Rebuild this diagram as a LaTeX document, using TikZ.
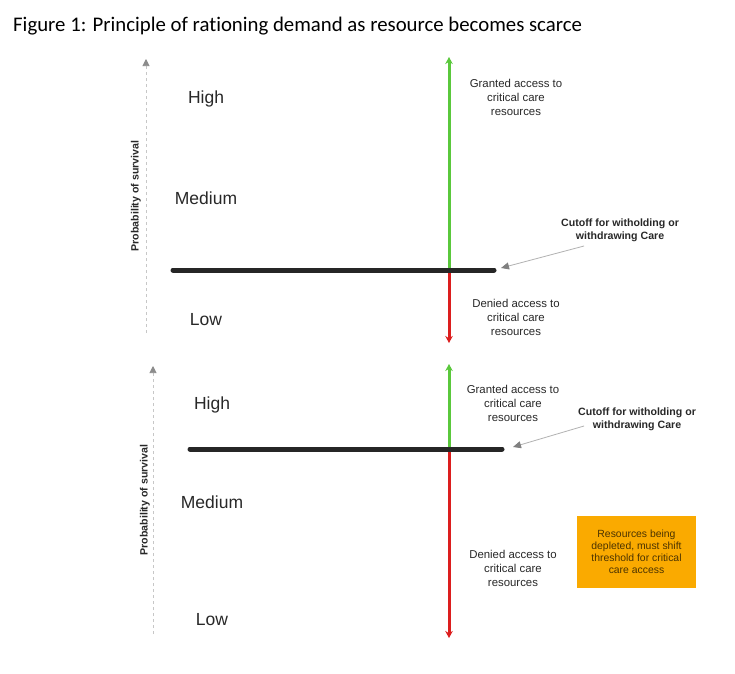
\documentclass[tikz,border=0pt]{standalone}
\usepackage{fontspec}
\setmainfont{Liberation Sans}
\newfontfamily\titlefont[Ligatures=NoCommon]{Carlito}
\usetikzlibrary{arrows.meta}
\definecolor{gruen}{RGB}{90,200,60}
\definecolor{rot}{RGB}{220,30,30}
\definecolor{orangebox}{RGB}{250,170,0}
\definecolor{txt}{RGB}{40,40,40}
\begin{document}
\begin{tikzpicture}[x=1pt,y=-1pt,
  level/.style={font=\fontsize{17.5}{21}\selectfont, text=txt, inner sep=0pt},
  small/.style={font=\fontsize{11.4}{14}\selectfont, text=txt, align=center, inner sep=0pt},
  cutoff/.style={font=\fontsize{10.6}{13}\selectfont\bfseries, text=txt, align=center, inner sep=0pt},
  axislbl/.style={font=\fontsize{10.6}{13}\selectfont\bfseries, text=txt, rotate=90, inner sep=0pt},
  axisline/.style={draw=black!22, dashed, line width=0.6pt, -{Triangle[length=7pt,width=7pt,color=black!45,fill=black!45]}},
  bar/.style={line width=5pt, line cap=round, draw=black!85},
  up/.style={draw=gruen, line width=3pt, -{Stealth[length=7pt,width=7.5pt]}},
  down/.style={draw=rot, line width=3pt, -{Stealth[length=7pt,width=7.5pt]}},
  pointer/.style={draw=black!30, line width=0.8pt, -{Triangle[length=8pt,width=7pt,color=black!50,fill=black!50]}}
]
\useasboundingbox (0,0) rectangle (735,673);
\fill[white] (0,0) rectangle (735,673);

% title
\node[anchor=west, inner sep=0pt, font=\titlefont\fontsize{20.8}{24}\selectfont] (title) at (13,26) {Figure 1: Principle of rationing demand as resource becomes scarce};

% ===== top panel =====
\coordinate (a1b) at (146,333);
\coordinate (a1t) at (146,59);
\draw[axisline] (a1b) -- (a1t);
\node[axislbl] (ylab1) at (136,196) {Probability of survival};
\node[level] (high1) at (206,99) {High};
\node[level] (med1) at (206,198) {Medium};
\node[level] (low1) at (206,320) {Low};

\coordinate (bar1l) at (173,270);
\coordinate (bar1r) at (494,270);
\coordinate (x1) at (449,270);
\coordinate (up1) at (449,57);
\coordinate (dn1) at (449,343);
\draw[up] (x1) -- (up1);
\draw[down] (x1) -- (dn1);
\draw[bar] (bar1l) -- (bar1r);

\node[small] (grant1) at (516,97) {Granted access to\\critical care\\resources};
\node[small] (deny1) at (516,317) {Denied access to\\critical care\\resources};
\node[cutoff] (cut1) at (620,230) {Cutoff for witholding or\\withdrawing Care};
\coordinate (p1s) at (584,246);
\coordinate (p1e) at (501,268);
\draw[pointer] (p1s) -- (p1e);

% ===== bottom panel =====
\coordinate (a2b) at (153,634);
\coordinate (a2t) at (153,366);
\draw[axisline] (a2b) -- (a2t);
\node[axislbl] (ylab2) at (145,500) {Probability of survival};
\node[level] (high2) at (212,405) {High};
\node[level] (med2) at (212,502) {Medium};
\node[level] (low2) at (212,620) {Low};

\coordinate (bar2l) at (190,449);
\coordinate (bar2r) at (502,449);
\coordinate (x2) at (449,449);
\coordinate (up2) at (449,364);
\coordinate (dn2) at (449,638);
\draw[up] (x2) -- (up2);
\draw[down] (x2) -- (dn2);
\draw[bar] (bar2l) -- (bar2r);

\node[small] (grant2) at (513,403) {Granted access to\\critical care\\resources};
\node[small] (deny2) at (513,568) {Denied access to\\critical care\\resources};
\node[cutoff] (cut2) at (637,419) {Cutoff for witholding or\\withdrawing Care};
\coordinate (p2s) at (584,426);
\coordinate (p2e) at (513,447);
\draw[pointer] (p2s) -- (p2e);

\node[fill=orangebox, minimum width=119pt, minimum height=72pt, inner sep=0pt,
  font=\fontsize{10.4}{12}\selectfont, text=black!70!orangebox, align=center] (box) at (636.5,552)
  {Resources being\\depleted, must shift\\threshold for critical\\care access};
\end{tikzpicture}
\end{document}
